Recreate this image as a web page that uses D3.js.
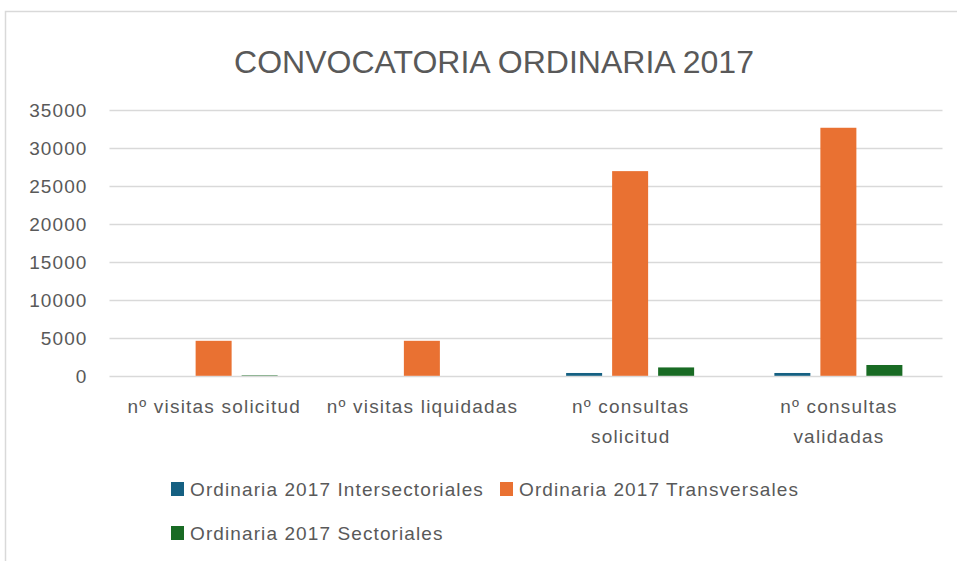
<!DOCTYPE html>
<html>
<head>
<meta charset="utf-8">
<script src="https://cdn.jsdelivr.net/npm/d3@7"></script>
<style>
  html, body { margin: 0; padding: 0; background: #fff; }
  svg { display: block; font-family: "Liberation Sans", Arial, sans-serif; }
</style>
</head>
<body>
<svg id="chart" width="957" height="561"></svg>
<script>
// Categories (x-axis), split into display lines
const categories = ["nº visitas solicitud", "nº visitas liquidadas", "nº consultas solicitud", "nº consultas validadas"];
const categoryLines = [["nº visitas solicitud"], ["nº visitas liquidadas"], ["nº consultas", "solicitud"], ["nº consultas", "validadas"]];

// Series
const seriesNames = ["Ordinaria 2017 Intersectoriales", "Ordinaria 2017 Transversales", "Ordinaria 2017 Sectoriales"];
const intersectoriales = [0, 0, 370, 370];
const transversales = [4600, 4600, 26900, 32600];
const sectoriales = [60, 0, 1100, 1420];
const seriesColors = ["#156082", "#E97132", "#196B24"];

// Y-axis ticks
const yTicks = [0, 5000, 10000, 15000, 20000, 25000, 30000, 35000];

const title = "CONVOCATORIA ORDINARIA 2017";

const svg = d3.select("#chart");
const textColor = "#595959";
const gridColor = "#d9d9d9";

// Outer chart frame
svg.append("rect")
  .attr("x", 5.5).attr("y", 11.5)
  .attr("width", 1000).attr("height", 600)
  .attr("fill", "none").attr("stroke", gridColor).attr("stroke-width", 1.5);

const plot = { left: 109.5, right: 942.5, top: 109.5, bottom: 375.8 };

const x0 = d3.scaleBand().domain(categories).range([plot.left, plot.right]).paddingInner(0).paddingOuter(0);
const x1 = d3.scaleBand().domain(seriesNames).range([-64, 64]).paddingInner(10 / 46).paddingOuter(0);
const y = d3.scaleLinear().domain([0, 35000]).range([plot.bottom, plot.top]);

// Title
svg.append("text")
  .attr("x", 494).attr("y", 73)
  .attr("text-anchor", "middle")
  .attr("font-size", 32)
  .attr("fill", textColor)
  .text(title);

// Gridlines
svg.append("g").selectAll("line").data(yTicks).join("line")
  .attr("x1", plot.left).attr("x2", plot.right)
  .attr("y1", d => Math.round(y(d)) + 0.5).attr("y2", d => Math.round(y(d)) + 0.5)
  .attr("stroke", gridColor).attr("stroke-width", 1.3);

// Y-axis labels
const yAxis = d3.axisLeft(y).tickValues(yTicks).tickSize(0).tickPadding(0).tickFormat(d3.format("d"));
const gy = svg.append("g").attr("transform", `translate(87.5,0)`).call(yAxis);
gy.select(".domain").remove();
gy.selectAll("text")
  .attr("font-size", 19).attr("fill", textColor)
  .attr("letter-spacing", 1.1)
  .attr("font-family", "'Liberation Sans', Arial, sans-serif")
  .attr("dy", "0.36em");

// Bars
const seriesData = [intersectoriales, transversales, sectoriales];
const rows = [];
categories.forEach((c, i) => {
  seriesNames.forEach((s, j) => rows.push({ cat: c, series: s, value: seriesData[j][i], color: seriesColors[j] }));
});
svg.append("g").selectAll("rect").data(rows.filter(d => d.value > 0)).join("rect")
  .attr("x", d => x0(d.cat) + x0.bandwidth() / 2 + x1(d.series))
  .attr("width", x1.bandwidth())
  .attr("y", d => y(d.value))
  .attr("height", d => y(0) - y(d.value))
  .attr("fill", d => d.color);

// X-axis labels
const gx = svg.append("g");
categories.forEach((c, i) => {
  const cx = x0(c) + x0.bandwidth() / 2 + 0.6;
  const t = gx.append("text")
    .attr("x", cx)
    .attr("y", 413)
    .attr("text-anchor", "middle")
    .attr("font-size", 19)
    .attr("letter-spacing", 1.2)
    .attr("fill", textColor);
  categoryLines[i].forEach((line, k) => {
    t.append("tspan").attr("x", cx).attr("dy", k === 0 ? 0 : 30).text(line);
  });
});

// Legend
const legendItems = [
  { name: seriesNames[0], color: seriesColors[0], x: 171, y: 489 },
  { name: seriesNames[1], color: seriesColors[1], x: 500, y: 489 },
  { name: seriesNames[2], color: seriesColors[2], x: 171, y: 533 }
];
const lg = svg.append("g").selectAll("g").data(legendItems).join("g")
  .attr("transform", d => `translate(${d.x},${d.y})`);
lg.append("rect").attr("x", 0).attr("y", -7).attr("width", 13).attr("height", 14).attr("fill", d => d.color);
lg.append("text").attr("x", 19).attr("y", 0).attr("dy", "0.36em")
  .attr("font-size", 19).attr("letter-spacing", 1.1).attr("fill", textColor)
  .text(d => d.name);
</script>
</body>
</html>
